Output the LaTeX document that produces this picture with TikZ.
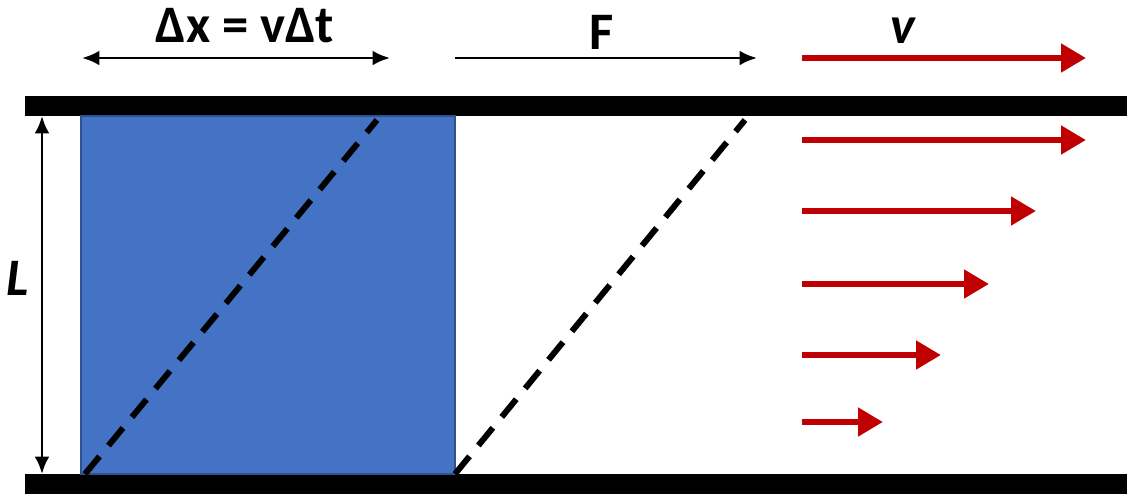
\documentclass[tikz,border=0pt]{standalone}
\usepackage{fontspec}
\setmainfont{Carlito}
\usetikzlibrary{arrows.meta,positioning}
\definecolor{fluidblue}{RGB}{68,114,196}
\definecolor{fluidedge}{RGB}{47,82,143}
\definecolor{velred}{RGB}{192,0,0}
\tikzset{
  plate/.style={fill=black, draw=none},
  fluid/.style={fill=fluidblue, draw=fluidedge, line width=1pt},
  shear/.style={black, line width=3.4pt, dash pattern=on 13pt off 8pt},
  dimarr/.style={{Latex[length=3.5mm,width=3mm]}-{Latex[length=3.5mm,width=3mm]}, line width=1.7pt},
  forcearr/.style={-{Latex[length=3.5mm,width=3mm]}, line width=1.7pt},
  velarr/.style={-{Triangle[length=5mm,width=5.5mm]}, velred, line width=3.6pt},
  lab/.style={font=\fontsize{30}{34}\selectfont\bfseries, inner sep=0pt},
}
\begin{document}
\begin{tikzpicture}[x=0.02cm, y=-0.02cm]
  \useasboundingbox (0,0) rectangle (1127,494);
  % plates and fluid block
  \fill[plate] (25,96) rectangle (1127,116);
  \fill[plate] (25,474) rectangle (1127,494);
  \draw[fluid] (81,116) rectangle (455,474);
  % sheared lines
  \coordinate (s1a) at (85,474); \coordinate (s1b) at (377,120);
  \coordinate (s2a) at (455,474); \coordinate (s2b) at (745,120);
  \draw[shear] (s1a) -- (s1b);
  \draw[shear] (s2a) -- (s2b);
  % gap height
  \coordinate (la) at (42,116); \coordinate (lb) at (42,474);
  \draw[dimarr] (la) -- (lb);
  \node[lab] (L) at (18,278) {\itshape L};
  % top labels
  \coordinate (dxa) at (82,58); \coordinate (dxb) at (390,58);
  \draw[dimarr] (dxa) -- (dxb);
  \node[lab] (dx) at (245,26) {Δx = vΔt};
  \coordinate (fa) at (455,58); \coordinate (fb) at (757,58);
  \draw[forcearr] (fa) -- (fb);
  \node[lab] (F) at (602,32) {F};
  % velocity profile
  \coordinate (va) at (802,58); \coordinate (vb) at (1086,58);
  \draw[velarr] (va) -- (vb);
  \node[lab] (v) at (903,31) {\itshape v};
  \foreach \yy/\xx [count=\i] in {140/1086, 211/1036, 284/989, 355/941, 422/883}{
    \coordinate (p\i) at (802,\yy);
    \coordinate (q\i) at (\xx,\yy);
    \draw[velarr] (p\i) -- (q\i);
  }
\end{tikzpicture}
\end{document}
